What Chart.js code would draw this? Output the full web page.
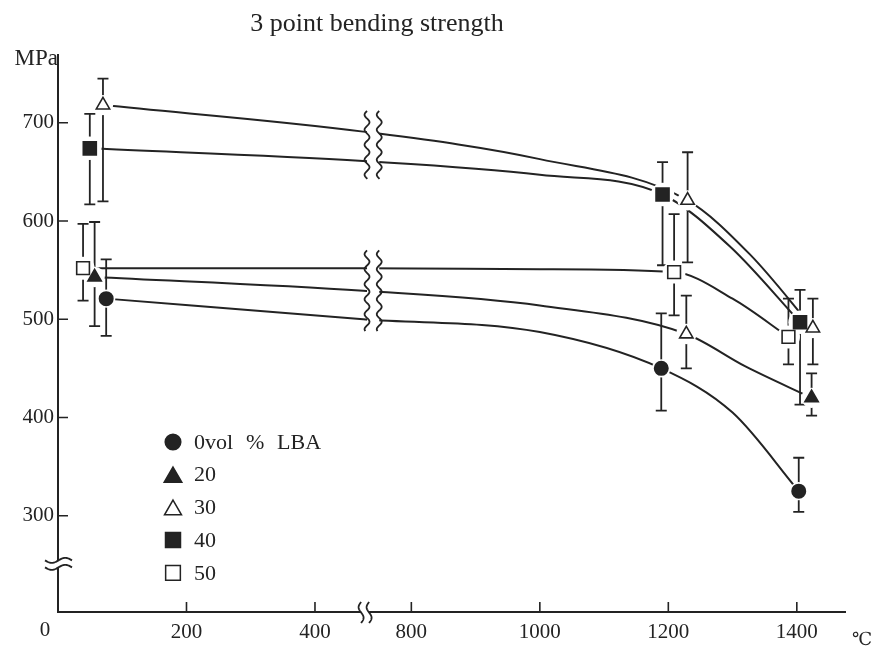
<!DOCTYPE html>
<html>
<head>
<meta charset="utf-8">
<script src="https://cdn.jsdelivr.net/npm/chart.js@4/dist/chart.umd.min.js"></script>
<style>
  html, body { margin: 0; padding: 0; background: #fff; }
</style>
</head>
<body>
<canvas id="c" width="872" height="650"></canvas>
<script>
// 3 point bending strength vs temperature, broken axes on x and y
const seriesNames = ["0vol % LBA", "20", "30", "40", "50"];
const pointStyles = ["circle", "triangle", "triangle", "rect", "rect"];

// measured points (°C, MPa) with error bar ends
const temps = [
  [75, 1189, 1403],
  [57, 1228, 1423],
  [70, 1230, 1425],
  [49.5, 1191, 1405],
  [39, 1209, 1387]
];
const mpa = [
  [521, 450, 325],
  [543, 485, 420],
  [718, 621, 491],
  [674, 627, 497],
  [552, 548, 482]
];
const errLow = [
  [483, 407, 304],
  [493, 450, 402],
  [620, 558, 454],
  [617, 555, 413],
  [519, 504, 454]
];
const errHigh = [
  [561, 506, 359],
  [599, 524, 445],
  [745, 670, 521],
  [709, 660, 530],
  [597, 607, 521]
];

// hand-drawn fitted curves
const curveT = [
  [75, 725, 1000, 1189, 1300, 1403],
  [57, 725, 1000, 1228, 1320, 1423],
  [70, 725, 1000, 1230, 1327, 1425],
  [49.5, 725, 1000, 1191, 1296, 1405],
  [39, 725, 1000, 1209, 1300, 1387]
];
const curveV = [
  [521, 500, 487, 450, 405, 325],
  [543, 529, 514, 485, 452, 420],
  [718, 691, 663, 621, 566, 491],
  [674, 661, 647, 627, 574, 497],
  [552, 552, 551, 548, 521, 482]
];

const xTickTemps = [200, 400, 800, 1000, 1200, 1400];
const yTickValues = [300, 400, 500, 600, 700];

const ink = "#232323";
const serif = "'Liberation Serif', 'Times New Roman', serif";

// x axis is cut between 400 and 800 °C
function axisX(t) {
  return t < 600 ? t : t - 250;
}

const markerRadius = [6.7, 7.7, 7.7, 9.2, 9.0];
const markerFill = [
  ink,
  [ink, "#fff", ink],   // middle point printed as an open triangle
  "#fff",
  ink,
  "#fff"
];

const datasets = [];
for (let i = 0; i < seriesNames.length; i++) {
  datasets.push({
    label: seriesNames[i] + " curve",
    data: curveT[i].map((t, j) => ({ x: axisX(t), y: curveV[i][j] })),
    showLine: true,
    pointRadius: 0,
    borderColor: ink,
    borderWidth: 2,
    cubicInterpolationMode: "monotone",
    order: 2
  });
}
for (let i = 0; i < seriesNames.length; i++) {
  datasets.push({
    label: seriesNames[i],
    data: temps[i].map((t, j) => ({
      x: axisX(t), y: mpa[i][j], lo: errLow[i][j], hi: errHigh[i][j]
    })),
    showLine: false,
    pointStyle: pointStyles[i],
    pointRadius: markerRadius[i],
    pointHoverRadius: markerRadius[i],
    pointBackgroundColor: markerFill[i],
    pointBorderColor: ink,
    pointBorderWidth: 1.6,
    order: 1,
    isMarker: true
  });
}

function wave(ctx, x0, y0, x1, y1, amp, periods) {
  // wavy line from (x0,y0) to (x1,y1)
  const dx = x1 - x0, dy = y1 - y0;
  const len = Math.hypot(dx, dy);
  const nx = -dy / len, ny = dx / len;
  ctx.beginPath();
  for (let k = 0; k <= 60; k++) {
    const t = k / 60;
    const off = amp * Math.sin(t * periods * 2 * Math.PI);
    const px = x0 + dx * t + nx * off;
    const py = y0 + dy * t + ny * off;
    if (k === 0) ctx.moveTo(px, py); else ctx.lineTo(px, py);
  }
  ctx.stroke();
}

let barsDone = false;
const decor = {
  id: "decor",
  beforeDatasetsDraw() { barsDone = false; },
  beforeDatasetDraw(chart, args) {
    const ds = chart.data.datasets[args.index];
    if (!ds.isMarker || barsDone) return;
    barsDone = true;
    const { ctx } = chart;
    const ys = chart.scales.y;
    ctx.save();
    // error bars for every series
    ctx.strokeStyle = ink;
    ctx.lineWidth = 1.8;
    chart.data.datasets.forEach((d, di) => {
      if (!d.isMarker) return;
      chart.getDatasetMeta(di).data.forEach((el, j) => {
        const p = d.data[j];
        const yl = ys.getPixelForValue(p.lo), yh = ys.getPixelForValue(p.hi);
        ctx.beginPath();
        ctx.moveTo(el.x, yl); ctx.lineTo(el.x, yh);
        ctx.moveTo(el.x - 5.5, yl); ctx.lineTo(el.x + 5.5, yl);
        ctx.moveTo(el.x - 5.5, yh); ctx.lineTo(el.x + 5.5, yh);
        ctx.stroke();
      });
    });
    // small white gaps round the markers
    ctx.fillStyle = "#fff";
    chart.data.datasets.forEach((d, di) => {
      if (!d.isMarker) return;
      chart.getDatasetMeta(di).data.forEach(el => {
        ctx.beginPath();
        ctx.arc(el.x, el.y, d.pointRadius + 2.5, 0, Math.PI * 2);
        ctx.fill();
      });
    });
    ctx.restore();
  },
  afterDatasetsDraw(chart) {
    const { ctx } = chart;
    const xs = chart.scales.x, ys = chart.scales.y;
    const xa = xs.getPixelForValue(481), xb = xs.getPixelForValue(500);
    ctx.save();
    ctx.strokeStyle = ink;
    ctx.lineWidth = 1.8;
    [[712, 643], [570, 488]].forEach(([top, bottom]) => {
      const yt = ys.getPixelForValue(top), yb = ys.getPixelForValue(bottom);
      ctx.fillStyle = "#fff";
      ctx.fillRect(xa, yt, xb - xa, yb - yt);
      const per = (yb - yt) / 15;
      wave(ctx, xa, yt, xa, yb, 2.5, per);
      wave(ctx, xb, yt, xb, yb, 2.5, per);
    });
    ctx.restore();
  },
  afterDraw(chart) {
    const { ctx, chartArea } = chart;
    const xs = chart.scales.x, ys = chart.scales.y;
    const left = chartArea.left, bottom = chartArea.bottom;
    ctx.save();
    ctx.strokeStyle = ink;
    ctx.fillStyle = ink;
    ctx.lineWidth = 1.6;

    // inward tick marks
    ctx.beginPath();
    yTickValues.forEach(v => {
      const y = ys.getPixelForValue(v);
      ctx.moveTo(left, y); ctx.lineTo(left + 10, y);
    });
    xTickTemps.forEach(t => {
      const x = xs.getPixelForValue(axisX(t));
      ctx.moveTo(x, bottom); ctx.lineTo(x, bottom - 10);
    });
    ctx.stroke();

    // y axis break
    const yb = ys.getPixelForValue(251);
    ctx.fillStyle = "#fff";
    ctx.fillRect(left - 3, yb - 3.5, 6, 7);
    ctx.lineWidth = 1.8;
    wave(ctx, left - 13, yb - 3.5, left + 14, yb - 3.5, 2.5, 1);
    wave(ctx, left - 13, yb + 3.5, left + 14, yb + 3.5, 2.5, 1);

    // x axis break
    const xb = xs.getPixelForValue(478);
    ctx.fillRect(xb - 4, bottom - 3, 8, 6);
    wave(ctx, xb - 4, bottom - 10, xb - 4, bottom + 11, 2.5, 1);
    wave(ctx, xb + 4, bottom - 10, xb + 4, bottom + 11, 2.5, 1);

    // texts
    ctx.fillStyle = ink;
    ctx.textBaseline = "alphabetic";
    ctx.textAlign = "center";
    ctx.font = "26px " + serif;
    ctx.fillText("3 point bending strength", 377, 31);
    ctx.textAlign = "right";
    ctx.font = "23px " + serif;
    ctx.fillText("MPa", 58, 65);
    ctx.textAlign = "center";
    ctx.font = "21px " + serif;
    ctx.fillText("0", 45, 636);
    ctx.textAlign = "left";
    ctx.font = "18px 'DejaVu Serif', serif";
    ctx.fillText("\u2103", 852, 645);

    // legend
    ctx.font = "22px " + serif;
    ctx.textBaseline = "middle";
    const legendR = [7.8, 10.2, 9.8, 10.6, 10.4];
    seriesNames.forEach((name, i) => {
      const y = 442 + i * 32.7;
      const open = i === 2 || i === 4;
      const r = legendR[i];
      const cy = pointStyles[i] === "triangle" ? y + r / 4 : y;
      ctx.fillStyle = open ? "#fff" : ink;
      ctx.strokeStyle = ink;
      ctx.lineWidth = 1.5;
      Chart.helpers.drawPoint(ctx, { pointStyle: pointStyles[i], radius: r, borderWidth: 1.5, rotation: 0 }, 173, cy);
      ctx.fillStyle = ink;
      ctx.fillText(name.replace(/ /g, "\u2002\u200a"), 194, y + 1);
    });
    ctx.restore();
  }
};

new Chart(document.getElementById("c").getContext("2d"), {
  type: "scatter",
  data: { datasets: datasets },
  options: {
    responsive: false,
    animation: false,
    layout: { padding: { top: 55, right: 27, left: 0, bottom: 0 } },
    plugins: {
      legend: { display: false },
      tooltip: { enabled: false }
    },
    scales: {
      x: {
        type: "linear",
        min: 0,
        max: 1225,
        afterBuildTicks: s => { s.ticks = xTickTemps.map(t => ({ value: axisX(t) })); },
        afterFit: s => { s.height = 38; },
        grid: { display: false, drawTicks: false },
        border: { display: true, color: ink, width: 2 },
        ticks: {
          autoSkip: false,
          maxRotation: 0,
          padding: 8,
          color: ink,
          font: { family: serif, size: 21 },
          callback: v => {
            const t = xTickTemps.find(tt => axisX(tt) === v);
            return t === undefined ? "" : String(t);
          }
        }
      },
      y: {
        type: "linear",
        min: 202,
        max: 769,
        afterBuildTicks: s => { s.ticks = yTickValues.map(v => ({ value: v })); },
        afterFit: s => { s.width = 58; },
        grid: { display: false, drawTicks: false },
        border: { display: true, color: ink, width: 2 },
        ticks: {
          padding: 4,
          color: ink,
          font: { family: serif, size: 21 }
        }
      }
    }
  },
  plugins: [decor]
});
</script>
</body>
</html>
